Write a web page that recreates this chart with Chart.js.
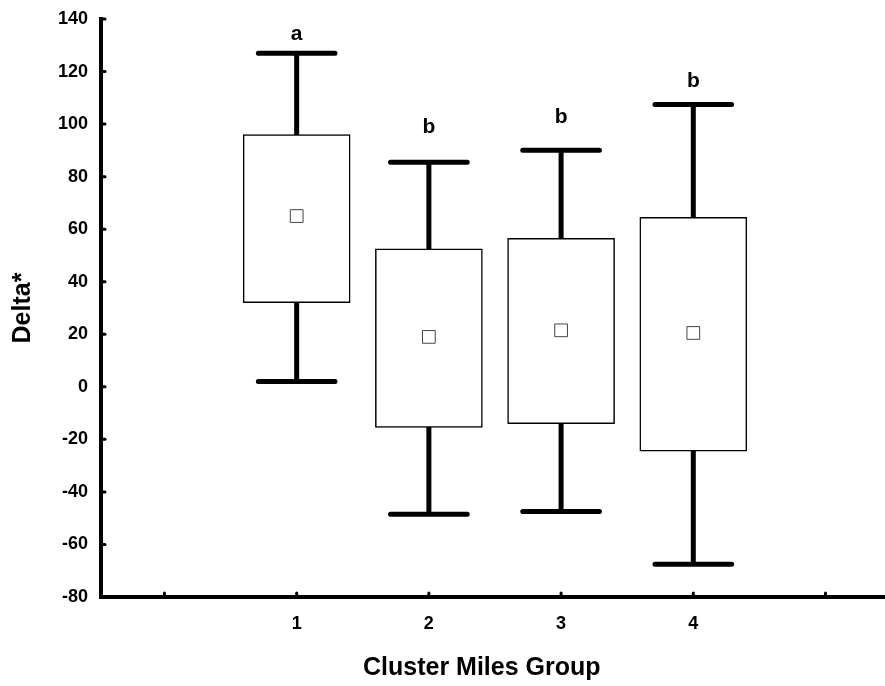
<!DOCTYPE html>
<html>
<head>
<meta charset="utf-8">
<script src="https://cdn.jsdelivr.net/npm/chart.js@4"></script>
<style>
  html, body { margin: 0; padding: 0; background: #fff; }
  #wrap { width: 885px; height: 686px; }
</style>
</head>
<body>
<div id="wrap"><canvas id="c" width="885" height="686"></canvas></div>
<script>
// ---- data ----
const categories = [1, 2, 3, 4];
const boxLow     = [32, -15.5, -14, -24.5];
const boxHigh    = [96, 52.5, 56.5, 64.5];
const means      = [65, 19, 21.5, 20.5];
const whiskerLow = [2, -48.5, -47.5, -67.5];
const whiskerHigh= [127, 85.5, 90, 107.5];
const letters    = ['a', 'b', 'b', 'b'];
const letterY    = [132, 96.5, 100.5, 114];
const xTickValues = [0, 1, 2, 3, 4, 5];
const yTickValues = [140, 120, 100, 80, 60, 40, 20, 0, -20, -40, -60, -80];
const xTitle = 'Cluster Miles Group';
const yTitle = 'Delta*';

const FONT = "'Liberation Sans', Arial, sans-serif";
const CAP_HALF = 0.29;
const X_TITLE_CENTER = 2.4; // axis value under the centre of the x title

// whisker stems and caps as line segments separated by gaps
const stemData = [];
const capData = [];
categories.forEach((c, i) => {
  stemData.push({x: c, y: whiskerLow[i]}, {x: c, y: whiskerHigh[i]}, {x: c, y: null});
  capData.push({x: c - CAP_HALF, y: whiskerHigh[i]}, {x: c + CAP_HALF, y: whiskerHigh[i]}, {x: c, y: null});
  capData.push({x: c - CAP_HALF, y: whiskerLow[i]}, {x: c + CAP_HALF, y: whiskerLow[i]}, {x: c, y: null});
});

const extras = {
  id: 'extras',
  afterDraw(chart) {
    const {ctx, scales: {x, y}, chartArea} = chart;
    ctx.save();
    // inward tick marks
    ctx.strokeStyle = '#000';
    ctx.lineWidth = 3;
    ctx.lineCap = 'round';
    xTickValues.forEach(v => {
      const px = x.getPixelForValue(v);
      ctx.beginPath();
      ctx.moveTo(px, chartArea.bottom);
      ctx.lineTo(px, chartArea.bottom - 4);
      ctx.stroke();
    });
    yTickValues.forEach(v => {
      const py = y.getPixelForValue(v);
      ctx.beginPath();
      ctx.moveTo(chartArea.left, py);
      ctx.lineTo(chartArea.left + 4, py);
      ctx.stroke();
    });
    // significance letters
    ctx.fillStyle = '#000';
    ctx.font = 'bold 21px ' + FONT;
    ctx.textAlign = 'center';
    ctx.textBaseline = 'alphabetic';
    categories.forEach((c, i) => {
      ctx.fillText(letters[i], x.getPixelForValue(c), y.getPixelForValue(letterY[i]));
    });
    // x axis title
    ctx.font = 'bold 25px ' + FONT;
    ctx.textBaseline = 'middle';
    ctx.fillText(xTitle, x.getPixelForValue(X_TITLE_CENTER), x.bottom - 18);
    ctx.restore();
  }
};

new Chart(document.getElementById('c'), {
  type: 'bar',
  data: {
    datasets: [
      {
        type: 'scatter',
        label: 'mean',
        data: categories.map((c, i) => ({x: c, y: means[i]})),
        pointStyle: 'rect',
        pointRadius: 9,
        backgroundColor: '#fff',
        borderColor: '#444',
        borderWidth: 1,
        order: 0
      },
      {
        type: 'bar',
        label: 'box',
        data: categories.map((c, i) => ({x: c, y: [boxLow[i], boxHigh[i]]})),
        backgroundColor: '#fff',
        borderColor: '#000',
        borderWidth: 1.5,
        borderSkipped: false,
        barThickness: 107,
        order: 1
      },
      {
        type: 'scatter',
        label: 'stems',
        data: stemData,
        showLine: true,
        spanGaps: false,
        borderColor: '#000',
        borderWidth: 5,
        pointRadius: 0,
        order: 2
      },
      {
        type: 'scatter',
        label: 'caps',
        data: capData,
        showLine: true,
        spanGaps: false,
        borderColor: '#000',
        borderWidth: 5,
        borderCapStyle: 'round',
        pointRadius: 0,
        order: 2
      }
    ]
  },
  options: {
    responsive: false,
    animation: false,
    layout: { autoPadding: false, padding: { top: 19, left: 0, right: 0, bottom: 0 } },
    plugins: { legend: { display: false }, tooltip: { enabled: false } },
    scales: {
      x: {
        type: 'linear',
        offset: false,
        min: -0.48,
        max: 5.45,
        grid: { display: false, offset: false, drawTicks: false },
        border: { display: true, color: '#000', width: 4 },
        afterBuildTicks: s => { s.ticks = xTickValues.map(v => ({value: v})); },
        afterFit: s => { s.height = 89; s.paddingRight = 0; s.paddingLeft = 0; },
        ticks: {
          autoSkip: false,
          maxRotation: 0,
          padding: 16,
          color: '#000',
          font: { family: FONT, size: 18, weight: 'bold' },
          callback: v => (categories.includes(v) ? String(v) : '')
        },
        title: { display: false }
      },
      y: {
        type: 'linear',
        min: -80,
        max: 140,
        grid: { display: false, drawTicks: false },
        border: { display: true, color: '#000', width: 4 },
        afterBuildTicks: s => { s.ticks = yTickValues.map(v => ({value: v})); },
        afterFit: s => { s.width = 101; s.paddingTop = 0; s.paddingBottom = 0; },
        ticks: {
          padding: 13,
          color: '#000',
          font: { family: FONT, size: 18, weight: 'bold' }
        },
        title: {
          display: true,
          text: yTitle,
          color: '#000',
          font: { family: FONT, size: 25, weight: 'bold' },
          padding: { top: 8, bottom: 0 }
        }
      }
    }
  },
  plugins: [extras]
});
</script>
</body>
</html>
